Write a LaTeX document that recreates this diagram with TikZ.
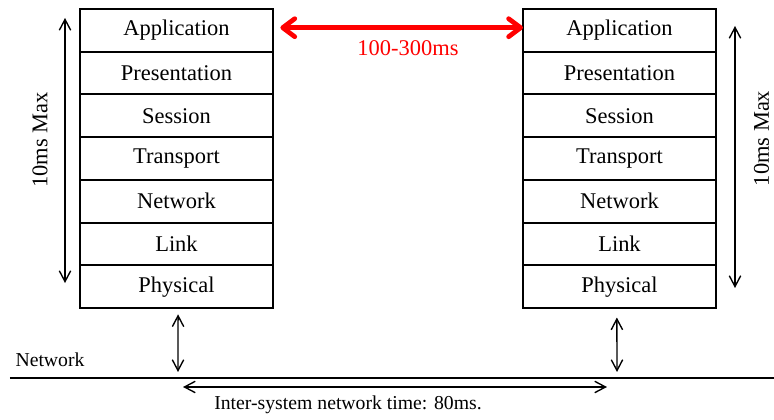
\documentclass[tikz,border=0pt]{standalone}
\usepackage{fontspec}
\setmainfont{Liberation Serif}
\usepackage{tikz}
\usepackage{xcolor}
\usetikzlibrary{arrows.meta, positioning}
\definecolor{LatRed}{HTML}{FF0000}

\tikzset{
    layer/.style={draw, line width=1.8pt, minimum width=6.433cm, minimum height=1.424cm,
        inner sep=0pt, outer sep=0pt, font=\fontsize{21.3}{24}\selectfont},
    biglabel/.style={font=\fontsize{21.3}{24}\selectfont},
    smalllabel/.style={font=\fontsize{18.7}{22}\selectfont},
    timearrow/.style={line width=1.3pt, {Straight Barb[length=3.6mm, width=3.8mm]}-{Straight Barb[length=3.6mm, width=3.8mm]}},
    latency/.style={LatRed, line width=4.5pt, {Straight Barb[round, length=4mm, width=6mm]}-{Straight Barb[round, length=4mm, width=6mm]}}
}

\begin{document}
\begin{tikzpicture}[scale=1.0]
    \useasboundingbox (0,0) rectangle (25.8,13.967);

    % Left protocol stack
    \node[layer] (lApp) at (5.883,12.955) {Application};
    \node[layer, below=0pt of lApp] (lPres) {Presentation};
    \node[layer, below=0pt of lPres] (lSess) {Session};
    \node[layer, below=0pt of lSess] (lTrans) {Transport};
    \node[layer, below=0pt of lTrans] (lNet) {Network};
    \node[layer, below=0pt of lNet] (lLink) {Link};
    \node[layer, below=0pt of lLink] (lPhy) {Physical};

    % Right protocol stack
    \node[layer] (rApp) at (20.65,12.955) {Application};
    \node[layer, below=0pt of rApp] (rPres) {Presentation};
    \node[layer, below=0pt of rPres] (rSess) {Session};
    \node[layer, below=0pt of rSess] (rTrans) {Transport};
    \node[layer, below=0pt of rTrans] (rNet) {Network};
    \node[layer, below=0pt of rNet] (rLink) {Link};
    \node[layer, below=0pt of rLink] (rPhy) {Physical};

    % Application to application latency
    \draw[latency] ([xshift=7pt, yshift=2.5pt]lApp.east) -- ([yshift=2.5pt]rApp.west);
    \node[biglabel, LatRed] (latLabel) at (13.6,12.367) {100-300ms};

    % Stack traversal times
    \coordinate (lTop) at (2.167,13.367);
    \coordinate (lBot) at (2.167,4.533);
    \draw[timearrow] (lTop) -- (lBot);
    \node[biglabel, rotate=90, inner sep=0pt] (lMax) at (1.333,9.3) {10ms Max};

    \coordinate (rTop) at (24.5,13.1);
    \coordinate (rBot) at (24.5,4.367);
    \draw[timearrow] (rTop) -- (rBot);
    \node[biglabel, rotate=90, inner sep=0pt] (rMax) at (25.38,9.35) {10ms Max};

    % Network line
    \coordinate (netW) at (0.333,1.367);
    \coordinate (netE) at (25.8,1.367);
    \draw[line width=1.5pt] (netW) -- (netE);
    \node[smalllabel] (netLabel) at (1.667,1.967) {Network};

    % Physical to network links
    \coordinate (lTap) at (5.933,1.567);
    \coordinate (rTap) at (20.567,1.567);
    \draw[timearrow] ([xshift=1.5pt, yshift=-6pt]lPhy.south) -- (lTap);
    \draw[timearrow] ([xshift=-2.5pt, yshift=-9pt]rPhy.south) -- (rTap);

    % Inter-system time
    \coordinate (interW) at (6.1,1.067);
    \coordinate (interE) at (20.233,1.067);
    \draw[timearrow] (interW) -- (interE);
    \node[smalllabel] (interLabel) at (11.6,0.467) {Inter-system network time: 80ms.};
\end{tikzpicture}
\end{document}
